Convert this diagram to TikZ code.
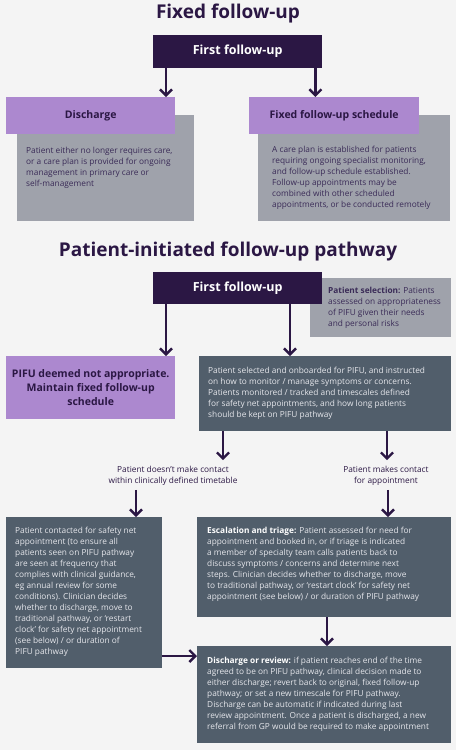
\documentclass[tikz,border=0pt]{standalone}
\usepackage{fontspec}
\setmainfont{Open Sans}
\usetikzlibrary{arrows.meta,calc}
\definecolor{bg}{HTML}{F4F4F4}
\definecolor{dpur}{HTML}{2B1744}
\definecolor{lpur}{HTML}{AC88CF}
\definecolor{gbox}{HTML}{9FA2AB}
\definecolor{slate}{HTML}{515E6B}
\definecolor{gtext}{HTML}{3A2B57}
\definecolor{stext}{HTML}{E6E7EC}
\begin{document}
\begin{tikzpicture}[x=1pt,y=-1pt,
 box/.style={draw=none,inner sep=0pt,anchor=north west},
 txt/.style={inner sep=0pt,anchor=north west,align=left,font=\fontsize{8.3}{11}\selectfont},
 gtxt/.style={txt,text=gtext},
 stxt/.style={txt,text=stext},
 ttl/.style={font=\fontsize{19}{24}\selectfont\bfseries,text=dpur},
 ffbox/.style={box,fill=dpur,minimum width=169pt,minimum height=33pt,text=white,font=\fontsize{12.5}{14}\selectfont\bfseries,anchor=north west},
 hdr/.style={box,fill=lpur,minimum width=169pt,minimum height=37pt,text=dpur,font=\fontsize{10.5}{12}\selectfont\bfseries},
 lbl/.style={inner sep=0pt,align=center,text=dpur,font=\fontsize{8.3}{11}\selectfont},
 arr/.style={draw=dpur,line width=2.6pt,-{Straight Barb[length=6pt,width=12pt,line width=2.4pt]}},
]
\fill[bg] (0,0) rectangle (456,750);
\useasboundingbox (0,0) rectangle (456,750);

% ---------- Fixed follow-up ----------
\node[ttl] (t1) at (228,14) {Fixed follow-up};
\node[ffbox] (ff1) at (153,35) {First follow-up};

\node[box,fill=gbox,minimum width=177pt,minimum height=106pt] (dg) at (17,115) {};
\node[box,fill=gbox,minimum width=192pt,minimum height=106pt] (fg) at (258,115) {};
\node[hdr] (dis) at (6,97) {Discharge};
\node[hdr,minimum width=170pt] (fs) at (249,97) {Fixed follow-up schedule};

\node[gtxt] (dgt) at (26,147) {Patient either no longer requires care,\\or a care plan is provided for ongoing\\management in primary care or\\self-management};
\node[gtxt] (fgt) at (272,146) {A care plan is established for patients\\requiring ongoing specialist monitoring,\\and follow-up schedule established.\\Follow-up appointments may be\\combined with other scheduled\\appointments, or be conducted remotely};

\draw[arr] ([xshift=13pt]ff1.south west) -- ([xshift=13pt]ff1.south west |- dis.north);
\draw[arr] ([xshift=-7pt]ff1.south east) -- ([xshift=-7pt]ff1.south east |- fs.north);

% ---------- PIFU ----------
\node[ttl] (t2) at (228,252) {Patient-initiated follow-up pathway};
\node[box,fill=gbox,minimum width=141pt,minimum height=59pt] (sel) at (310,278) {};
\node[ffbox,minimum height=32pt] (ff2) at (153,272) {First follow-up};
\node[gtxt] (selt) at (328,287) {\textbf{Patient selection:} Patients\\assessed on appropriateness\\of PIFU given their needs\\and personal risks};

\node[box,fill=lpur,minimum width=169pt,minimum height=63pt,align=center,text=dpur,font=\fontsize{10.5}{14}\selectfont\bfseries] (na) at (6,356) {PIFU deemed not appropriate.\\Maintain fixed follow-up\\schedule};
\node[box,fill=slate,minimum width=252pt,minimum height=75pt] (on) at (199,356) {};
\node[stxt] (ont) at (208,367) {Patient selected and onboarded for PIFU, and instructed\\on how to monitor / manage symptoms or concerns.\\Patients monitored / tracked and timescales defined\\for safety net appointments, and how long patients\\should be kept on PIFU pathway};

\draw[arr] ([xshift=13pt]ff2.south west) -- ([xshift=13pt]ff2.south west |- na.north);
\draw[arr] ([xshift=137pt]ff2.south west) -- ([xshift=137pt]ff2.south west |- on.north);

\node[lbl] (l1) at (173,476) {Patient doesn’t make contact\\within clinically defined timetable};
\node[lbl] (l2) at (386,476) {Patient makes contact\\for appointment};

\draw[arr] ($(on.south west)+(24pt,0)$) -- ($(on.south west |- l1.north)+(24pt,6pt)$);
\draw[arr] ($(on.south west)+(188pt,0)$) -- ($(on.south west |- l2.north)+(188pt,6pt)$);

\node[box,fill=slate,minimum width=156pt,minimum height=151pt] (sn) at (6,517) {};
\node[stxt] (snt) at (15,527) {Patient contacted for safety net\\appointment (to ensure all\\patients seen on PIFU pathway\\are seen at frequency that\\complies with clinical guidance,\\eg annual review for some\\conditions). Clinician decides\\whether to discharge, move to\\traditional pathway, or ‘restart\\clock’ for safety net appointment\\(see below) / or duration of\\PIFU pathway};

\node[box,fill=slate,minimum width=254pt,minimum height=100pt] (es) at (197,517) {};
\node[stxt] (est) at (207,527) {\textcolor{white}{\textbf{Escalation and triage:}} Patient assessed for need for\\appointment and booked in, or if triage is indicated\\a member of specialty team calls patients back to\\discuss symptoms / concerns and determine next\\steps. Clinician decides whether to discharge, move\\to traditional pathway, or ‘restart clock’ for safety net\\appointment (see below) / or duration of PIFU pathway};

\node[box,fill=slate,minimum width=254pt,minimum height=97pt] (dr) at (197,646) {};
\node[stxt] (drt) at (207,657) {\textcolor{white}{\textbf{Discharge or review:}} if patient reaches end of the time\\agreed to be on PIFU pathway, clinical decision made to\\either discharge; revert back to original, fixed follow-up\\pathway; or set a new timescale for PIFU pathway.\\Discharge can be automatic if indicated during last\\review appointment. Once a patient is discharged, a new\\referral from GP would be required to make appointment};

\draw[arr] ($(sn.north west |- l1.south)+(130pt,-4pt)$) -- ($(sn.north west)+(130pt,0)$);
\draw[arr] ($(l2.south)+(2pt,-4pt)$) -- ($(l2.south |- es.north)+(2pt,0)$);
\draw[arr] ($(es.south west)+(130pt,0)$) -- ($(es.south west |- dr.north)+(130pt,0)$);
\draw[arr] ($(sn.north east)+(0,-139pt)$) -- ($(sn.north east -| dr.west)+(0,-139pt)$);
\end{tikzpicture}
\end{document}
